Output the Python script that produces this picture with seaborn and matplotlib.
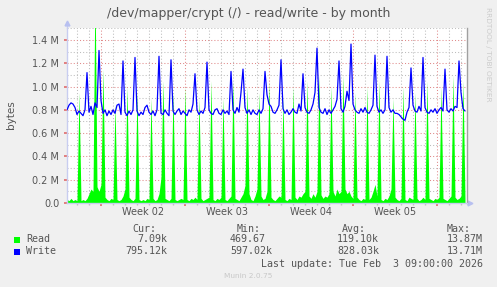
import pandas as pd
import matplotlib
matplotlib.use("Agg")
import matplotlib.pyplot as plt
from matplotlib.patches import Rectangle
import matplotlib.dates as mdates
import seaborn as sns

# 4-hourly samples starting at the left edge, values in MB/s
start = "2026-01-02 04:00"
span_days = 400 / 12

read_m = [
    0.03, 0.02, 0.04, 0.02, 0.03, 0.02, 0.95, 0.02, 0.03, 0.02,
    0.04, 0.08, 0.12, 0.10, 1.90, 0.14, 0.10, 0.16, 1.15, 0.05,
    0.03, 0.02, 0.04, 0.03, 0.85, 0.03, 0.02, 0.03, 0.06, 0.12,
    1.00, 0.05, 0.03, 0.02, 0.04, 0.95, 0.03, 0.02, 0.03, 0.02,
    0.04, 0.03, 0.90, 0.04, 0.02, 0.03, 0.08, 0.22, 1.05, 0.04,
    0.03, 0.02, 0.04, 0.95, 0.03, 0.02, 0.03, 0.04, 0.03, 1.00,
    0.03, 0.02, 0.04, 0.03, 0.05, 0.03, 0.90, 0.04, 0.02, 0.03,
    0.04, 0.05, 1.05, 0.03, 0.02, 0.04, 0.03, 0.05, 0.90, 0.03,
    0.02, 0.04, 0.06, 1.05, 0.04, 0.03, 0.02, 0.05, 0.08, 0.15,
    1.00, 0.08, 0.03, 0.02, 0.06, 0.12, 0.95, 0.06, 0.03, 0.04,
    0.10, 1.05, 0.05, 0.03, 0.02, 0.04, 0.06, 0.05, 0.90, 0.03,
    0.02, 0.04, 0.03, 1.00, 0.05, 0.03, 0.06, 0.05, 0.08, 0.10,
    1.05, 0.06, 0.04, 0.08, 0.05, 0.10, 1.10, 0.07, 0.04, 0.06,
    0.05, 0.08, 1.00, 0.10, 0.06, 0.12, 0.08, 0.10, 1.10, 0.12,
    0.08, 0.10, 0.06, 0.04, 0.95, 0.05, 0.03, 0.02, 0.04, 0.03,
    1.00, 0.03, 0.05, 0.10, 0.16, 0.06, 1.05, 0.03, 0.02, 0.04,
    0.03, 0.06, 0.12, 0.90, 0.05, 0.03, 0.02, 0.04, 1.00, 0.03,
    0.02, 0.05, 0.04, 0.03, 0.95, 0.04, 0.02, 0.03, 0.05, 0.03,
    1.05, 0.04, 0.03, 0.02, 0.04, 0.03, 0.05, 1.00, 0.04, 0.03,
    0.02, 0.04, 0.06, 1.10, 0.05, 0.03, 0.04, 0.06, 1.05, 0.04,
]

write_m = [
    0.80, 0.84, 0.86, 0.85, 0.82, 0.76, 0.79, 0.77, 0.75, 0.80,
    1.12, 0.78, 0.83, 0.76, 0.86, 0.82, 1.31, 0.88, 0.77, 0.80,
    0.75, 0.79, 0.76, 0.80, 0.77, 0.84, 0.85, 0.76, 1.22, 0.78,
    0.75, 0.79, 0.76, 0.80, 1.25, 0.79, 0.75, 0.78, 0.76, 0.82,
    0.84, 0.78, 0.76, 0.79, 0.75, 0.80, 1.26, 0.77, 0.76, 0.80,
    0.77, 0.75, 1.23, 0.79, 0.76, 0.79, 0.81, 0.76, 0.79, 0.77,
    0.75, 0.80, 0.78, 0.85, 1.11, 0.80, 0.76, 0.79, 0.77, 0.82,
    1.21, 0.80, 0.77, 0.76, 0.80, 0.81, 0.77, 0.76, 0.80, 0.77,
    0.79, 0.76, 1.13, 0.80, 0.77, 0.82, 0.78, 0.95, 1.15, 0.82,
    0.77, 0.80, 0.76, 0.80, 0.77, 0.76, 0.80, 0.77, 0.81, 1.13,
    0.93, 0.85, 0.83, 0.78, 0.77, 0.80, 0.84, 1.23, 0.81, 0.77,
    0.80, 0.76, 0.78, 0.81, 0.78, 0.77, 0.85, 0.79, 1.11, 0.82,
    0.78, 0.77, 0.80, 0.85, 0.95, 1.33, 0.82, 0.78, 0.77, 0.81,
    0.76, 0.80, 0.77, 0.80, 0.83, 0.89, 1.22, 0.81, 0.78, 0.83,
    0.96, 0.88, 1.365, 0.85, 0.80, 0.78, 0.77, 0.81, 0.78, 0.82,
    0.78, 0.77, 0.80, 0.84, 1.27, 0.83, 0.78, 0.80, 0.77, 0.80,
    1.26, 0.82, 0.78, 0.80, 0.77, 0.77, 0.76, 0.74, 0.72, 0.71,
    0.78, 0.82, 1.16, 0.84, 0.79, 0.78, 0.83, 0.79, 1.25, 0.82,
    0.78, 0.77, 0.80, 0.78, 0.81, 0.77, 0.80, 0.82, 0.79, 1.15,
    0.80, 0.78, 0.81, 0.79, 0.83, 0.82, 1.22, 0.95, 0.81, 0.79,
]

week_starts = ["2026-01-05", "2026-01-12", "2026-01-19", "2026-01-26", "2026-02-02"]
week_labels = ["Week 02", "Week 03", "Week 04", "Week 05"]
y_ticks = [0.0, 0.2, 0.4, 0.6, 0.8, 1.0, 1.2, 1.4]
y_labels = ["0.0", "0.2 M", "0.4 M", "0.6 M", "0.8 M", "1.0 M", "1.2 M", "1.4 M"]

series_names = ["Read", "Write"]
series_colors = ["#00ff00", "#0000ff"]
cur_vals = ["7.09k", "795.12k"]
min_vals = ["469.67", "597.02k"]
avg_vals = ["119.10k", "828.03k"]
max_vals = ["13.87M", "13.71M"]
last_update = "Last update: Tue Feb  3 09:00:00 2026"

W, H = 497, 287
txt = "#555555"

sns.set_theme(style="white", rc={"figure.facecolor": "#f0f0f0", "axes.facecolor": "white"})
plt.rcParams["font.family"] = ["DejaVu Sans"]

t = pd.date_range(start, periods=len(write_m), freq="4h")
df = pd.DataFrame({"time": t, "read": read_m, "write": write_m})

fig = plt.figure(figsize=(W / 100, H / 100), dpi=100)
ax = fig.add_axes([67 / W, 84 / H, 400 / W, 175 / H])

def fx(px):
    return px / W

def fy(py):
    return 1 - py / H

ax.fill_between(df["time"], 0, df["read"], color=series_colors[0], lw=0, zorder=2)
sns.lineplot(data=df, x="time", y="write", color=series_colors[1], lw=0.9, ax=ax, zorder=3)

ax.set_xlim(t[0], t[0] + pd.Timedelta(days=span_days))
ax.set_ylim(0, 1.503)

# grid: red at weeks / 0.2M, grey at days / 0.1M
ax.set_xticks(pd.to_datetime(week_starts))
ax.set_xticklabels([])
ax.xaxis.set_minor_locator(mdates.DayLocator())
ax.set_yticks(y_ticks)
ax.set_yticklabels(y_labels)
ax.set_yticks([v / 10 for v in range(1, 16, 2)], minor=True)
ax.set_axisbelow(True)
ax.grid(which="minor", color="#bdbdbd", ls=(0, (1, 2)), lw=0.75)
ax.grid(which="major", color="#e08a8a", ls=(0, (1, 2)), lw=0.75)
ax.tick_params(axis="both", which="major", length=2, color="#e07070", labelsize=7,
               labelcolor=txt, pad=3.5, bottom=True, left=True)
ax.tick_params(axis="both", which="minor", length=1.5, color="#c0c0c0", bottom=True, left=False)

ax.spines["top"].set_visible(False)
ax.spines["left"].set_color("#c8cdf0")
ax.spines["bottom"].set_color("#c8cdf0")
ax.spines["right"].set_color("#a0a0a0")
for s in ["left", "bottom", "right"]:
    ax.spines[s].set_linewidth(1)

# axis arrows
ax.plot([0, 0], [1, 1.03], transform=ax.transAxes, color="#c8cdf0", lw=1, clip_on=False)
ax.plot([0], [1.03], marker="^", ms=3.5, color="#b8c0f0", transform=ax.transAxes, clip_on=False)
ax.plot([1, 1.008], [0, 0], transform=ax.transAxes, color="#c8cdf0", lw=1, clip_on=False)
ax.plot([1.008], [0], marker=">", ms=3.5, color="#b8c0f0", transform=ax.transAxes, clip_on=False)

for ws, lab in zip(week_starts, week_labels):
    mid = pd.Timestamp(ws) + pd.Timedelta(days=3.5)
    ax.text(mid, -9 / 175, lab, transform=ax.get_xaxis_transform(), ha="center", va="center",
            fontsize=7, color=txt)

ax.set_xlabel("")
ax.set_ylabel("")

fig.text(0.5, fy(13), "/dev/mapper/crypt (/) - read/write - by month", ha="center", va="center",
         fontsize=9, color=txt)
fig.text(fx(11), fy(115), "bytes", rotation=90, ha="center", va="center", fontsize=7.5, color=txt)
fig.text(fx(488), fy(54), "RRDTOOL / TOBI OETIKER", rotation=270, ha="center", va="center",
         fontsize=5.3, color="#cccccc")

mono = {"family": "DejaVu Sans Mono", "size": 7.2, "color": txt}
fig.text(fx(132), fy(228.5), "Cur:", ha="left", va="center", **mono)
fig.text(fx(237), fy(228.5), "Min:", ha="left", va="center", **mono)
fig.text(fx(342), fy(228.5), "Avg:", ha="left", va="center", **mono)
fig.text(fx(447), fy(228.5), "Max:", ha="left", va="center", **mono)
for i, name in enumerate(series_names):
    yy = 239.5 + 12 * i
    fig.patches.append(Rectangle((fx(14), fy(yy + 3)), 6 / W, 6 / H, transform=fig.transFigure,
                                 color=series_colors[i], lw=0))
    fig.text(fx(26), fy(yy), name, ha="left", va="center", **mono)
    fig.text(fx(167), fy(yy), cur_vals[i], ha="right", va="center", **mono)
    fig.text(fx(230), fy(yy), min_vals[i], ha="left", va="center", **mono)
    fig.text(fx(337), fy(yy), avg_vals[i], ha="left", va="center", **mono)
    fig.text(fx(483), fy(yy), max_vals[i], ha="right", va="center", **mono)
fig.text(fx(483), fy(264), last_update, ha="right", va="center", **mono)
fig.text(fx(248), fy(276), "Munin 2.0.75", ha="center", va="center", fontsize=5.3, color="#c8c8c8")

fig.savefig("out.png", dpi=100, facecolor=fig.get_facecolor())
